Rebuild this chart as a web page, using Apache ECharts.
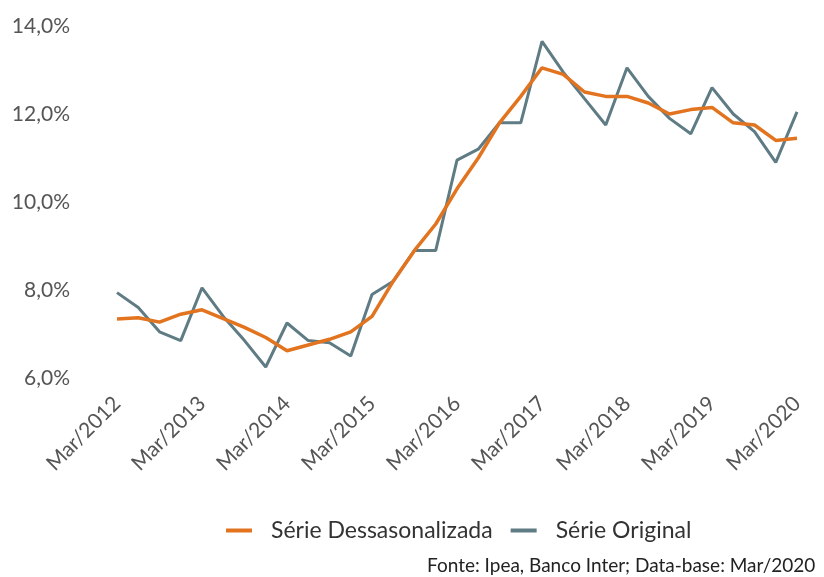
<!DOCTYPE html>
<html>
<head>
<meta charset="utf-8">
<script src="https://cdn.jsdelivr.net/npm/echarts@6/dist/echarts.min.js"></script>
<style>
html,body{margin:0;padding:0;background:#fff;}
#chart{width:824px;height:577px;}
</style>
</head>
<body>
<div id="chart"></div>
<script>
// Quarterly categories Mar/2012 .. Mar/2020
const months = ['Mar', 'Jun', 'Set', 'Dez'];
const categories = [];
for (let y = 2012; y <= 2020; y++) {
  for (let m = 0; m < 4; m++) {
    if (y === 2020 && m > 0) break;
    categories.push(months[m] + '/' + y);
  }
}
const serieDessazonalizada = [7.34, 7.37, 7.27, 7.45, 7.55, 7.35, 7.15, 6.92, 6.62, 6.75, 6.88, 7.05, 7.4, 8.2, 8.9, 9.5, 10.3, 11.0, 11.8, 12.4, 13.05, 12.9, 12.5, 12.4, 12.4, 12.25, 12.0, 12.1, 12.15, 11.8, 11.75, 11.4, 11.45];
const serieOriginal = [7.94, 7.6, 7.05, 6.85, 8.05, 7.4, 6.85, 6.25, 7.25, 6.85, 6.8, 6.5, 7.9, 8.2, 8.9, 8.9, 10.95, 11.2, 11.8, 11.8, 13.65, 12.95, 12.35, 11.75, 13.05, 12.4, 11.9, 11.55, 12.6, 12.0, 11.6, 10.9, 12.05];
const yTicks = [6, 8, 10, 12, 14];
const sourceText = 'Fonte: Ipea, Banco Inter; Data-base: Mar/2020';

const chart = echarts.init(document.getElementById('chart'));
chart.setOption({
  backgroundColor: '#ffffff',
  animation: false,
  grid: { left: 117, right: 27, top: 26, bottom: 199 },
  legend: {
    left: 221, top: 514,
    icon: 'rect', itemWidth: 26, itemHeight: 4, itemGap: 18,
    textStyle: { fontFamily: 'Lato', fontSize: 23, color: '#333', padding: [0, 0, 0, 14] },
    data: ['Série Dessasonalizada', 'Série Original']
  },
  xAxis: {
    type: 'category',
    data: categories,
    boundaryGap: false,
    axisLine: { show: false },
    axisTick: { show: false },
    splitLine: { show: false },
    axisLabel: {
      interval: function (i) { return i % 4 === 0; },
      rotate: 45,
      margin: 22,
      fontFamily: 'Lato',
      fontSize: 21,
      color: '#555'
    }
  },
  yAxis: {
    type: 'value',
    min: yTicks[0], max: yTicks[yTicks.length - 1], interval: 2,
    axisLine: { show: false },
    axisTick: { show: false },
    splitLine: { show: false },
    axisLabel: {
      margin: 47,
      fontFamily: 'Lato',
      fontSize: 21,
      color: '#555',
      formatter: v => v.toFixed(1).replace('.', ',') + '%'
    }
  },
  series: [
    {
      name: 'Série Dessasonalizada', type: 'line', data: serieDessazonalizada,
      symbol: 'none', lineStyle: { width: 3.5, color: '#E2731F' }, itemStyle: { color: '#E2731F' }, z: 3
    },
    {
      name: 'Série Original', type: 'line', data: serieOriginal,
      symbol: 'none', lineStyle: { width: 3, color: '#5F7B84' }, itemStyle: { color: '#5F7B84' }, z: 2
    }
  ],
  graphic: [{
    type: 'text', left: 427, top: 556,
    style: { text: sourceText, fontFamily: 'Lato', fontSize: 19, fill: '#222' }
  }]
});
</script>
</body>
</html>
